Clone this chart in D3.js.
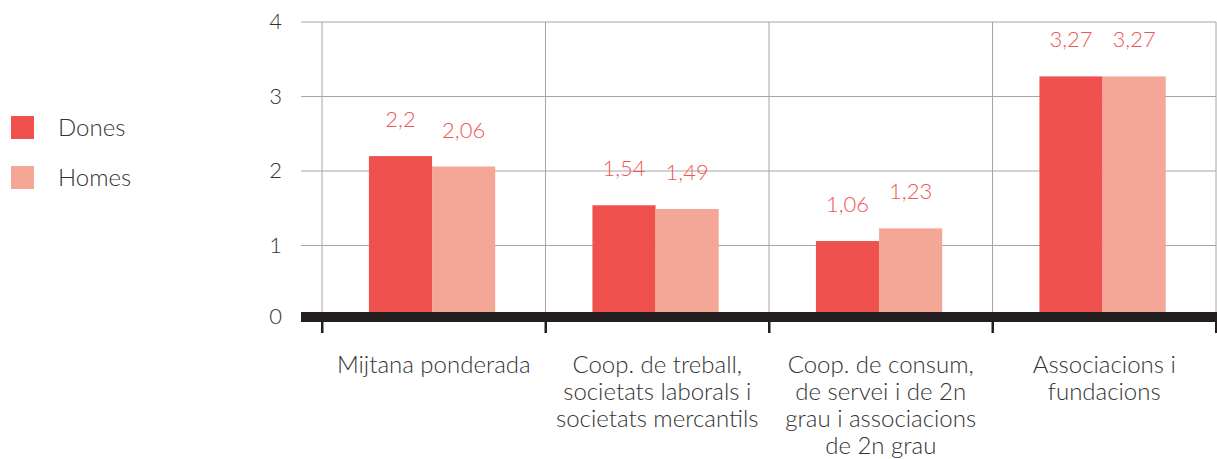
<!DOCTYPE html>
<html lang="ca">
<head>
<meta charset="UTF-8">
<title>Dones i homes per tipus d'entitat</title>
<script src="https://d3js.org/d3.v7.min.js"></script>
<style>
    body { margin: 0; background: #fff; font-family: Lato, "Open Sans", sans-serif; }
    svg text { font-family: Lato, "Open Sans", sans-serif; font-weight: 300; }
</style>
</head>
<body>
<svg id="chart" width="1217" height="459"></svg>
<script>
const categories = [
    ["Mijtana ponderada"],
    ["Coop. de treball,", "societats laborals i", "societats mercantils"],
    ["Coop. de consum,", "de servei i de 2n", "grau i associacions", "de 2n grau"],
    ["Associacions i", "fundacions"]
];
const series = ["Dones", "Homes"];
const dones = [2.2, 1.54, 1.06, 3.27];
const homes = [2.06, 1.49, 1.23, 3.27];
const yTicks = [0, 1, 2, 3, 4];

const colors = { Dones: "#ee514e", Homes: "#f4a797" };
const labelColor = "#ef5754";

const svg = d3.select("#chart");
const plotLeft = 322, plotRight = 1216, plotTop = 22, zeroY = 320;

const keys = categories.map((c, i) => i);
const x = d3.scaleBand().domain(keys).range([plotLeft, plotRight]).padding(0);
const x1 = d3.scaleBand().domain(series)
    .range([x.bandwidth() * 0.21, x.bandwidth() * 0.775]);
const y = d3.scaleLinear().domain([0, 4]).range([zeroY, plotTop]);

// horizontal grid
svg.append("g").selectAll("line")
    .data(yTicks.filter(d => d > 0))
    .join("line")
    .attr("x1", 301).attr("x2", plotRight)
    .attr("y1", d => y(d)).attr("y2", d => y(d))
    .attr("stroke", "#a6a6a6").attr("stroke-width", 1);

// vertical grid
svg.append("g").selectAll("line")
    .data(keys.concat([keys.length]))
    .join("line")
    .attr("x1", d => d < keys.length ? x(d) : plotRight)
    .attr("x2", d => d < keys.length ? x(d) : plotRight)
    .attr("y1", plotTop).attr("y2", zeroY)
    .attr("stroke", "#a6a6a6").attr("stroke-width", 1);

// y tick labels
svg.append("g").selectAll("text")
    .data(yTicks)
    .join("text")
    .attr("x", 282)
    .attr("y", d => (d === 0 ? y(d) - 3 : y(d)) + 7)
    .attr("text-anchor", "end")
    .attr("fill", "#333")
    .style("font-size", "22px")
    .text(d => d);

const rows = keys.map(i => ({ i, values: [
    { key: "Dones", value: dones[i] },
    { key: "Homes", value: homes[i] }
] }));

const groups = svg.append("g").selectAll("g")
    .data(rows)
    .join("g")
    .attr("transform", d => `translate(${x(d.i)},0)`);

groups.selectAll("rect")
    .data(d => d.values)
    .join("rect")
    .attr("x", d => x1(d.key))
    .attr("width", x1.bandwidth())
    .attr("y", d => y(d.value))
    .attr("height", d => zeroY - y(d.value))
    .attr("fill", d => colors[d.key]);

groups.selectAll("text")
    .data(d => d.values)
    .join("text")
    .attr("x", d => x1(d.key) + x1.bandwidth() / 2)
    .attr("y", d => y(d.value) - 29)
    .attr("text-anchor", "middle")
    .attr("fill", labelColor)
    .style("font-size", "22px")
    .text(d => String(d.value).replace(".", ","));

// thick x axis
svg.append("rect")
    .attr("x", 301).attr("y", zeroY - 8)
    .attr("width", plotRight - 301 + 1).attr("height", 10)
    .attr("fill", "#231f20");

svg.append("g").selectAll("rect")
    .data(keys.concat([keys.length]))
    .join("rect")
    .attr("x", d => (d < keys.length ? x(d) : plotRight) - 1)
    .attr("y", zeroY)
    .attr("width", 2.5).attr("height", 13)
    .attr("fill", "#231f20");

// category labels
const catText = svg.append("g").selectAll("text")
    .data(rows)
    .join("text")
    .attr("text-anchor", "middle")
    .attr("fill", "#333")
    .style("font-size", "24px");

catText.selectAll("tspan")
    .data(d => categories[d.i].map(t => ({ t, cx: x(d.i) + x.bandwidth() / 2 })))
    .join("tspan")
    .attr("x", d => d.cx)
    .attr("y", (d, j) => 373 + j * 27)
    .text(d => d.t);

// legend
const legend = svg.append("g").selectAll("g")
    .data(series)
    .join("g")
    .attr("transform", (d, i) => `translate(11,${116 + i * 50})`);

legend.append("rect")
    .attr("width", 23).attr("height", 23)
    .attr("fill", d => colors[d]);

legend.append("text")
    .attr("x", 47).attr("y", 20)
    .attr("fill", "#333")
    .style("font-size", "24px")
    .text(d => d);
</script>
</body>
</html>
